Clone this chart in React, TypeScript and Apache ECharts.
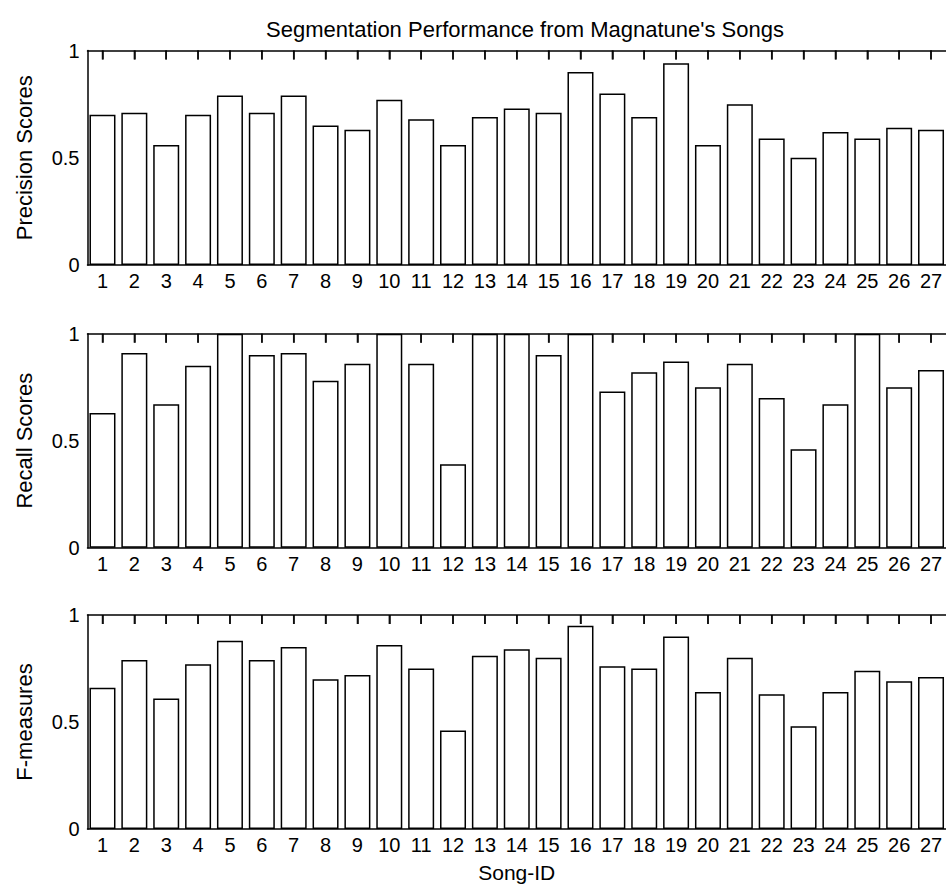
import React, { useEffect, useRef } from "react";
import * as echarts from "echarts";

const titleText = "Segmentation Performance from Magnatune's Songs";
const xName = "Song-ID";
const panelNames = ["Precision Scores", "Recall Scores", "F-measures"];
const songIds = [1, 2, 3, 4, 5, 6, 7, 8, 9, 10, 11, 12, 13, 14, 15, 16, 17, 18, 19, 20, 21, 22, 23, 24, 25, 26, 27];
const precision = [0.70, 0.71, 0.56, 0.70, 0.79, 0.71, 0.79, 0.65, 0.63, 0.77, 0.68, 0.56, 0.69, 0.73, 0.71, 0.90, 0.80, 0.69, 0.94, 0.56, 0.75, 0.59, 0.50, 0.62, 0.59, 0.64, 0.63];
const recall = [0.63, 0.91, 0.67, 0.85, 1.0, 0.90, 0.91, 0.78, 0.86, 1.0, 0.86, 0.39, 1.0, 1.0, 0.90, 1.0, 0.73, 0.82, 0.87, 0.75, 0.86, 0.70, 0.46, 0.67, 1.0, 0.75, 0.83];
const fmeasure = [0.66, 0.79, 0.61, 0.77, 0.88, 0.79, 0.85, 0.70, 0.72, 0.86, 0.75, 0.46, 0.81, 0.84, 0.80, 0.95, 0.76, 0.75, 0.90, 0.64, 0.80, 0.63, 0.48, 0.64, 0.74, 0.69, 0.71];
const panelValues = [precision, recall, fmeasure];

const FONT = "'Liberation Sans', Arial, sans-serif";

export default function App() {
  const ref = useRef<HTMLDivElement>(null);
  useEffect(() => {
    document.body.style.margin = "0";
    if (!ref.current) return;
    const chart = echarts.init(ref.current, undefined, { renderer: "svg" });
    const tops = [50.5, 333.7, 615];
    const heights = [214.5, 214, 214];
    const left = 87.5;
    const xMin = 0.53;
    const xMax = 27.47;
    const tickLen = 9;
    const grids = tops.map((t, i) => ({ left, top: t, height: heights[i], right: -7.3 }));
    const xAxes: any[] = [];
    const yAxes: any[] = [];
    const series: any[] = [];
    panelNames.forEach((name, i) => {
      const tickIds = songIds.filter((_s, k) => panelValues[i][k] < 1);
      const tickDepth = tickLen / heights[i];
      xAxes.push({
        type: "value",
        gridIndex: i,
        position: "bottom",
        min: xMin,
        max: xMax,
        axisLine: { show: true, onZero: false, lineStyle: { color: "#000", width: 1.5 } },
        axisTick: { show: false },
        axisLabel: { show: true, customValues: songIds, margin: 6, color: "#000", fontSize: 20, fontFamily: FONT },
        splitLine: { show: false },
        name: i === 2 ? xName : "",
        nameLocation: "middle",
        nameGap: 33,
        nameTextStyle: { color: "#000", fontSize: 21, fontFamily: FONT },
      });
      xAxes.push({
        type: "value",
        gridIndex: i,
        position: "top",
        min: xMin,
        max: xMax,
        axisLine: { show: true, onZero: false, lineStyle: { color: "#000", width: 1.5 } },
        axisTick: { show: false },
        axisLabel: { show: false },
        splitLine: { show: false },
      });
      yAxes.push({
        type: "value",
        gridIndex: i,
        min: 0,
        max: 1,
        interval: 0.5,
        axisLine: { show: true, lineStyle: { color: "#000", width: 1.5 } },
        axisTick: { show: false },
        axisLabel: { margin: 8, color: "#000", fontSize: 20, fontFamily: FONT },
        splitLine: { show: false },
        name,
        nameLocation: "middle",
        nameGap: 52,
        nameRotate: 90,
        nameTextStyle: { color: "#000", fontSize: 22, fontFamily: FONT },
      });
      series.push({
        type: "bar",
        xAxisIndex: i * 2,
        yAxisIndex: i,
        z: 2,
        barWidth: 26,
        data: songIds.map((s, k) => [s, panelValues[i][k]]),
        itemStyle: { color: "#fff", borderColor: "#000", borderWidth: 1.5 },
      });
      // inward tick marks hanging from the top edge (hidden where a bar reaches the top)
      series.push({
        type: "scatter",
        xAxisIndex: i * 2,
        yAxisIndex: i,
        z: 5,
        clip: false,
        silent: true,
        symbol: "rect",
        symbolSize: [1.5, tickLen],
        symbolOffset: [0, tickLen / 2],
        itemStyle: { color: "#000" },
        data: tickIds.map((s) => [s, 1]),
        markLine: {
          silent: true,
          symbol: ["none", "none"],
          label: { show: false },
          lineStyle: { color: "#000", width: 1.5, type: "solid" },
          data: tickIds.map((s) => [{ coord: [s, 1] }, { coord: [s, 1 - tickDepth] }]),
        },
      });
    });
    chart.setOption({
      animation: false,
      backgroundColor: "#fff",
      title: {
        text: titleText,
        left: 520,
        top: 13,
        textAlign: "center",
        textStyle: { color: "#000", fontSize: 22, fontWeight: "normal", fontFamily: FONT },
      },
      grid: grids,
      xAxis: xAxes,
      yAxis: yAxes,
      series,
    });
    return () => chart.dispose();
  }, []);
  return <div ref={ref} style={{ width: 946, height: 889, overflow: "hidden" }} />;
}
